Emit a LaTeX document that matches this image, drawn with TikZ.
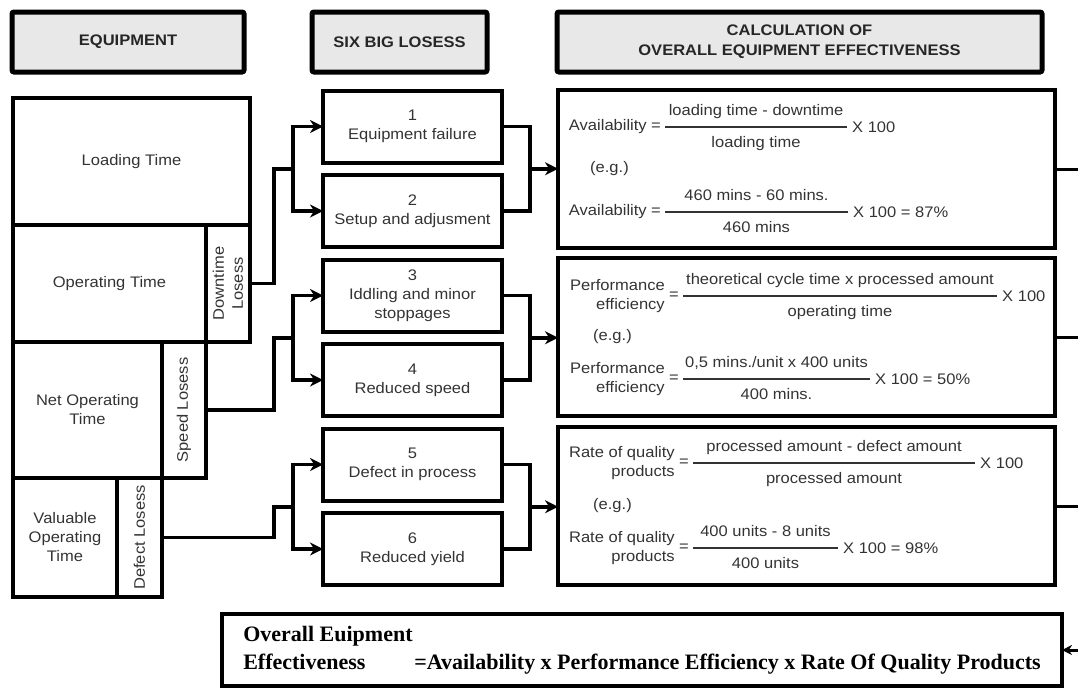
\documentclass[tikz,border=0pt]{standalone}
\usepackage{fontspec}
\setmainfont{Liberation Sans}[FakeStretch=1.08]
\newfontfamily\oeefont{Liberation Serif}
\usepackage{tikz}
\usetikzlibrary{positioning, arrows.meta}

% one formula line: name, bar start, bar length, label, numerator, denominator, tail
\newcommand{\ratio}[7]{%
  \coordinate (#1) at #2;
  \draw[fracbar] (#1) -- node[numer] (#1-num) {#5} node[denom] (#1-den) {#6} ++(#3,0) coordinate (#1-end);
  \node[ftext, anchor=east, xshift=-2pt] (#1-eq) at (#1) {=};
  \node[flabel, left=0pt of #1-eq] (#1-name) {#4};
  \node[ftext, anchor=west, xshift=3pt] (#1-tail) at (#1-end) {#7};
}

\begin{document}
\begin{tikzpicture}[
    x=1pt, y=1pt,
    ftext/.style={text=black!80, font=\fontsize{15.3}{19}\selectfont, inner sep=2pt},
    flabel/.style={ftext, align=right},
    numer/.style={ftext, anchor=south, text depth=3pt, inner ysep=7.5pt},
    denom/.style={ftext, anchor=north, text height=11pt, inner ysep=9pt},
    fracbar/.style={line width=1.5pt, black!80},
    header/.style={draw, line width=5pt, rounded corners=2pt, fill=gray!18, minimum height=60pt, align=center, outer sep=0pt, text=black!85, font=\bfseries\fontsize{15.3}{20}\selectfont},
    cell/.style={ftext, draw, line width=3.3pt, anchor=north west, align=center, outer sep=0pt},
    vtext/.style={ftext, rotate=90, align=center},
    lossbox/.style={ftext, draw, line width=4pt, minimum width=179pt, minimum height=72pt, align=center, outer sep=0pt},
    formbox/.style={draw, line width=4pt, minimum width=497pt, minimum height=158pt, outer sep=0pt},
    oeebox/.style={draw, line width=4pt, minimum width=840pt, minimum height=72pt, align=left, outer sep=0pt, font=\oeefont\bfseries\fontsize{22}{28}\selectfont},
    link/.style={line width=3.5pt},
    arrowlink/.style={link, -{Stealth[length=13pt, width=13pt]}},
]
\useasboundingbox (0,0) rectangle (1078,-691);

% Draw the headers
\node[header, minimum width=232pt] (EQ) at (128,-42) {EQUIPMENT};
\node[header, minimum width=175pt, right=68pt of EQ] (SBL) {SIX BIG LOSESS};
\node[header, minimum width=485pt, right=70pt of SBL] (CALC) {CALCULATION OF\\OVERALL EQUIPMENT EFFECTIVENESS};

% Draw the equipment time column
\node[cell, minimum width=237pt, minimum height=127pt] (LT) at (13,-98) {Loading Time};
\node[cell, minimum width=193pt, minimum height=117pt] (OT) at (LT.south west) {Operating Time};
\node[cell, minimum width=44pt, minimum height=117pt] (DL) at (OT.north east) {};
\node[cell, minimum width=149pt, minimum height=136pt] (NOT) at (OT.south west) {Net Operating\\Time};
\node[cell, minimum width=44pt, minimum height=136pt] (SL) at (NOT.north east) {};
\node[cell, minimum width=104pt, minimum height=119pt] (VOT) at (NOT.south west) {Valuable\\Operating\\Time};
\node[cell, minimum width=45pt, minimum height=119pt] (DfL) at (VOT.north east) {};
\node[vtext] (DLtext) at (DL.center) {Downtime\\Losess};
\node[vtext] (SLtext) at (SL.center) {Speed Losess};
\node[vtext] (DfLtext) at (DfL.center) {Defect Losess};

% Draw the six big losses
\node[lossbox] (L1) at (412.5,-126.5) {1\\Equipment failure};
\node[lossbox, below=12.5pt of L1] (L2) {2\\Setup and adjusment};
\node[lossbox, below=12.5pt of L2] (L3) {3\\Iddling and minor\\stoppages};
\node[lossbox, below=12.5pt of L3] (L4) {4\\Reduced speed};
\node[lossbox, below=12.5pt of L4] (L5) {5\\Defect in process};
\node[lossbox, below=12.5pt of L5] (L6) {6\\Reduced yield};

% Draw the formula boxes
\node[formbox] (FA) at (806.5,-169) {};
\node[formbox, below=10pt of FA] (FB) {};
\node[formbox, below=11pt of FB] (FC) {};
\node[ftext, right=30pt of FA.west] (EgA) {(e.g.)};
\node[ftext, right=33pt of FB.west] (EgB) {(e.g.)};
\node[ftext, right=33pt of FC.west] (EgC) {(e.g.)};

\ratio{FA1}{(665,-127)}{182}{Availability}{loading time - downtime}{loading time}{X 100}
\ratio{FA2}{(665,-212)}{183}{Availability}{460 mins - 60 mins.}{460 mins}{X 100 = 87\%}
\ratio{FB1}{(683,-296)}{314}{Performance\\efficiency}{theoretical cycle time x processed amount}{operating time}{X 100}
\ratio{FB2}{(683,-379)}{187}{Performance\\efficiency}{0,5 mins./unit x 400 units}{400 mins.}{X 100 = 50\%}
\ratio{FC1}{(693,-463)}{282}{Rate of quality\\products}{processed amount - defect amount}{processed amount}{X 100}
\ratio{FC2}{(693,-548)}{145}{Rate of quality\\products}{400 units - 8 units}{400 units}{X 100 = 98\%}

% Draw the overall result
\node[oeebox] (OEE) at (642,-650) {Overall Euipment\\\makebox[171pt][l]{Effectiveness}=Availability x Performance Efficiency x Rate Of Quality Products};

% Junctions
\coordinate (J1) at (293,-168.75);
\coordinate (J2) at (293,-337.75);
\coordinate (J3) at (293,-506.75);
\coordinate (M1) at (530,-168.75);
\coordinate (M2) at (530,-337.75);
\coordinate (M3) at (530,-506.75);
\coordinate (rim) at (1078,0);

% Losses into the six big losses
\draw[link] (DL.east) -| ([xshift=-19pt]J1) -- (J1);
\draw[arrowlink] (J1) |- (L1.west);
\draw[arrowlink] (J1) |- (L2.west);
\draw[link] (SL.east) -| ([xshift=-19pt]J2) -- (J2);
\draw[arrowlink] (J2) |- (L3.west);
\draw[arrowlink] (J2) |- (L4.west);
\draw[link] (DfL.east) -| ([xshift=-19pt]J3) -- (J3);
\draw[arrowlink] (J3) |- (L5.west);
\draw[arrowlink] (J3) |- (L6.west);

% Six big losses into the formulas
\draw[link] (L1.east) -| (M1) |- (L2.east);
\draw[arrowlink] (M1) -- (M1 -| FA.west);
\draw[link] (L3.east) -| (M2) |- (L4.east);
\draw[arrowlink] (M2) -- (M2 -| FB.west);
\draw[link] (L5.east) -| (M3) |- (L6.east);
\draw[arrowlink] (M3) -- (M3 -| FC.west);

% Formulas out to the result
\draw[link, line width=3pt] (FA.east) -- (FA.east -| rim);
\draw[link, line width=3pt] (FB.east) -- (FB.east -| rim);
\draw[link, line width=3pt] (FC.east) -- (FC.east -| rim);
\draw[link, line width=3pt, -{Stealth[length=10pt, width=10pt]}] (rim |- OEE.east) -- (OEE.east);

\end{tikzpicture}
\end{document}
